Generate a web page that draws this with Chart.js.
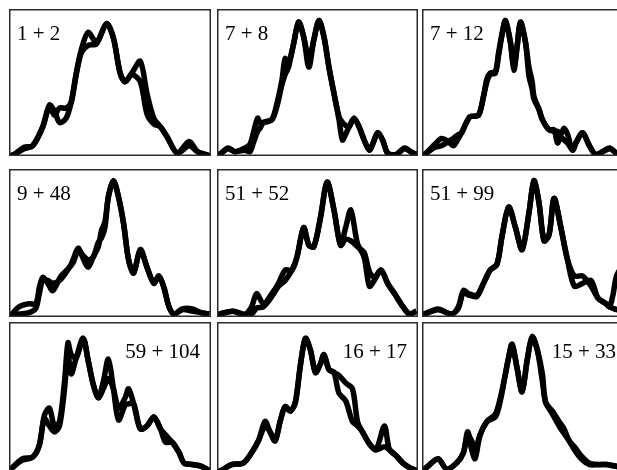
<!DOCTYPE html>
<html>
<head>
<meta charset="utf-8">
<script src="https://cdn.jsdelivr.net/npm/chart.js@4/dist/chart.umd.min.js"></script>
<style>
  html, body { margin: 0; padding: 0; width: 617px; height: 470px; overflow: hidden; background: #fff; }
  .panel { position: absolute; }
</style>
</head>
<body>
<div class="panel" style="left:9px;top:9px;width:202px;height:147px"><canvas id="c1"></canvas></div>
<div class="panel" style="left:217px;top:9px;width:201px;height:147px"><canvas id="c2"></canvas></div>
<div class="panel" style="left:422px;top:9px;width:201px;height:147px"><canvas id="c3"></canvas></div>
<div class="panel" style="left:9px;top:169px;width:202px;height:148px"><canvas id="c4"></canvas></div>
<div class="panel" style="left:217px;top:169px;width:201px;height:148px"><canvas id="c5"></canvas></div>
<div class="panel" style="left:422px;top:169px;width:201px;height:148px"><canvas id="c6"></canvas></div>
<div class="panel" style="left:9px;top:322px;width:202px;height:150px"><canvas id="c7"></canvas></div>
<div class="panel" style="left:217px;top:322px;width:201px;height:150px"><canvas id="c8"></canvas></div>
<div class="panel" style="left:422px;top:322px;width:201px;height:150px"><canvas id="c9"></canvas></div>

<script>
// pair labels
const labels = ['1 + 2', '7 + 8', '7 + 12', '9 + 48', '51 + 52', '51 + 99', '59 + 104', '16 + 17', '15 + 33'];

// panel 1 (1 + 2)
const p1x = [0, 2.5, 7.5, 11.7, 16.7, 20, 22.5, 25, 28.3, 30.8, 33.3, 35.8, 39.2, 43.3, 48.3, 51.7, 55, 57.5, 60.8, 65, 68.3, 71.7, 75, 78.3, 83.3, 89.2, 93.3, 97.5, 100];
const p1a = [-1, 0, 5, 6, 19, 34, 30, 22, 25, 36, 56, 72, 84, 77, 90, 80, 56, 50, 55, 50, 28, 21, 19, 12, 1, 9, 2, 0, -1];
const p1b = [-1, 0, 4, 6, 19, 33, 27, 32, 32, 36, 55, 70, 75, 76, 90, 80, 56, 50, 56, 64, 42, 25, 19, 12, 1, 6, 2, 0, -1];

// panel 2 (7 + 8)
const p2x = [0, 2.2, 5.5, 8.9, 13.9, 16.4, 18.1, 20.2, 21.4, 23.1, 27.3, 29.8, 32.3, 33.9, 35.6, 36.5, 38.1, 40.6, 43.1, 45.7, 48.2, 50.7, 53.2, 55.7, 58.2, 60.7, 62.4, 64, 65.7, 68.2, 70.7, 73.2, 75.8, 77.4, 79.9, 82.4, 84.9, 89.1, 93.3, 97.5, 100];
const p2a = [-1, 1, 4.5, 2, 4.5, 7, 15, 25, 22, 22, 24, 35, 51, 66, 63, 66, 76, 91, 81, 60, 79, 92, 81, 60, 42, 24, 10, 14, 19, 25, 19, 10, 3, 7, 15, 10, 1, 0, 4.5, 1, 0];
const p2b = [-1, 1, 4, 2, 3, 2, 8, 16, 18, 22, 24, 33, 48, 55, 60, 66, 76, 91, 81, 66, 79, 92, 81, 60, 42, 26, 22, 20, 19, 25, 19, 10, 3, 7, 15, 10, 1, 0, 4, 1, 0];

// panel 3 (7 + 12)
const p3x = [0, 1.3, 6.4, 9.7, 13, 15.6, 17.2, 19.7, 21.4, 23.9, 28.1, 30.6, 32.3, 33.9, 36.5, 38.1, 39.8, 41.5, 44, 45.7, 47.3, 49, 51.5, 53.2, 54.8, 55.7, 58.2, 59.9, 63.2, 65.7, 67.4, 69.1, 70.7, 72.4, 74.9, 76.6, 79.9, 83.3, 86.6, 93.3, 96.7, 100];
const p3a = [-1, 0, 7, 11, 9, 6, 9, 15, 20, 26, 27, 40, 52, 56, 57, 70, 83, 92, 77, 58, 74, 91, 77, 54, 45, 38, 31, 24, 17, 17, 8, 12, 10, 8, 3, 8, 15, 6, 0, 4.5, 1, 0];
const p3b = [-1, 0, 5, 6, 9, 11, 13, 15, 20, 26, 27, 40, 50, 55, 56, 68, 82, 92, 77, 60, 74, 91, 77, 60, 50, 40, 31, 24, 17, 16, 16, 14, 18, 14, 3, 8, 15, 6, 0, 4, 1, 0];

// panel 4 (9 + 48)
const p4x = [0, 0.8, 5, 10, 13.3, 15, 16.7, 19.2, 21.7, 25.8, 30, 31.7, 34.2, 36.7, 39.2, 41.7, 44.2, 45.8, 47.5, 49.2, 51.7, 54.2, 56.7, 59.2, 61.7, 65, 68.3, 71.7, 74.2, 76.7, 79.2, 81.7, 85.8, 90.8, 95, 99.2];
const p4a = [-1, 0, 6, 8, 8, 19, 26, 22, 17, 27, 33, 38, 46, 39, 33, 40, 47, 58, 64, 81, 92, 81, 63, 38, 29, 45, 33, 22, 27, 19, 6, 1, 4.5, 4.5, 2, 1];
const p4b = [-1, 0, 1, 2, 5, 15, 24, 24, 22, 25, 33, 36, 44, 41, 38, 40, 50, 53, 60, 81, 92, 81, 63, 38, 29, 45, 33, 22, 27, 19, 6, 1, 4, 3, 2, 1];

// panel 5 (51 + 52)
const p5x = [0, 1.3, 8, 13.9, 17.2, 19.7, 23.1, 27.3, 30.6, 33.9, 37.3, 39.8, 43.1, 45.7, 48.2, 51.5, 54.8, 58.2, 61.5, 64, 66.6, 69.9, 73.2, 75.8, 78.3, 81.6, 84.9, 88.3, 92.5, 95.8, 99.2];
const p5a = [0, 1, 3, 1, 6, 15, 8, 15, 22, 31, 31, 40, 60, 48, 47, 67, 91, 72, 48, 52, 51, 47, 43, 30, 26, 31, 22, 15, 6, 1, 3];
const p5b = [0, 1, 3, 0, 1, 5, 6, 13, 20, 24, 31, 40, 60, 48, 47, 67, 91, 72, 48, 60, 72, 49, 40, 20, 24, 31, 22, 15, 6, 1, 3];

// panel 6 (51 + 99)
const p6x = [0, 1.3, 8, 14.7, 18.1, 20.6, 23.1, 27.3, 30.6, 33.9, 37.3, 39.8, 43.1, 46.5, 49.8, 53.2, 55.7, 58.2, 60.7, 63.2, 65.7, 69.1, 72.4, 75.8, 79.9, 84.1, 87.5, 91.6, 93.3, 95, 96.8, 100];
const p6a = [0, 1, 4.5, 1, 6, 17, 15, 14, 22, 31, 35, 54, 74, 60, 45, 70, 92, 77, 51, 55, 80, 60, 38, 20, 22, 24, 12, 8, 6, 14, 27, 35];
const p6b = [0, 1, 4, 1, 5, 16, 14, 13, 22, 31, 35, 54, 74, 60, 45, 70, 92, 77, 51, 55, 80, 60, 38, 27, 27, 20, 12, 8, 6, 5, 4, 3];

// panel 7 (59 + 104)
const p7x = [0, 1.7, 6.7, 11.7, 15, 17.5, 20, 22.5, 25, 27.5, 29.2, 30.8, 33.3, 36.7, 39.2, 41.7, 44.2, 46.7, 49.2, 51.7, 54.2, 57.5, 59.2, 61.7, 65, 68.3, 71.7, 75, 77.5, 80.8, 84.2, 86.7, 90.8, 95, 99.2];
const p7a = [0, 2, 8, 9, 17, 37, 42, 30, 33, 60, 86, 78, 76, 89, 74, 58, 49, 55, 62, 55, 42, 49, 55, 45, 28, 30, 36, 28, 19, 19, 12, 5, 4, 3, 0];
const p7b = [0, 2, 7, 9, 17, 35, 30, 26, 30, 55, 78, 65, 76, 89, 74, 58, 49, 60, 75, 55, 34, 44, 45, 45, 28, 30, 36, 28, 24, 19, 12, 5, 4, 3, 0];

// panel 8 (16 + 17)
const p8x = [0, 2.2, 7.2, 13, 17.2, 20.6, 23.9, 26.4, 28.9, 31.4, 33.9, 36.5, 39, 41.5, 44, 46.5, 49, 51.5, 53.2, 55.7, 58.2, 60.7, 64, 67.4, 69.9, 72.4, 75.8, 79.1, 83.3, 85.8, 89.1, 92.5, 95.8, 99.2];
const p8a = [-1, 0, 4, 5, 12, 20, 33, 26, 20, 33, 43, 40, 46, 71, 89, 81, 66, 72, 78, 68, 66, 52, 47, 33, 30, 26, 18, 14, 30, 14, 10, 5, 2, 0];
const p8b = [-1, 0, 4, 5, 12, 20, 30, 26, 20, 33, 43, 40, 46, 71, 89, 81, 66, 72, 78, 68, 66, 64, 59, 55, 33, 26, 18, 14, 16, 14, 10, 5, 2, 0];

// panel 9 (15 + 33)
const p9x = [0, 2.2, 8, 12.2, 17.2, 20.6, 22.7, 24.7, 26.4, 28.9, 32.3, 36.5, 39, 41.5, 43.1, 44.8, 47.3, 49.8, 52.3, 54.8, 57.4, 59.9, 61.5, 64.9, 68.2, 70.7, 73.2, 75.8, 79.1, 83.3, 87.5, 91.6, 95.8, 100];
const p9a = [0, 2, 8, 1, 5, 12, 26, 14, 8, 24, 33, 38, 49, 65, 76, 85, 69, 53, 74, 90, 81, 65, 46, 40, 33, 28, 20, 16, 10, 5, 4, 4, 3, 2];
const p9b = [0, 2, 8, 1, 5, 12, 24, 20, 14, 24, 33, 36, 47, 65, 76, 85, 69, 53, 74, 90, 81, 60, 46, 38, 30, 25, 20, 14, 8, 4, 4, 4, 3, 2];

const panels = [
    [p1x, p1a, p1b], [p2x, p2a, p2b], [p3x, p3a, p3b],
    [p4x, p4a, p4b], [p5x, p5a, p5b], [p6x, p6a, p6b],
    [p7x, p7a, p7b], [p8x, p8a, p8b], [p9x, p9a, p9b]
];

// frame around the plot area and the pair label
const framePlugin = {
    id: 'frame',
    afterDraw(chart, args, opts) {
        const ctx = chart.ctx;
        const a = chart.chartArea;
        ctx.save();
        ctx.strokeStyle = '#2b2b2b';
        ctx.lineWidth = 1.5;
        ctx.strokeRect(a.left + 0.75, a.top + 0.75, a.width - 1.5, a.height - 1.5);
        ctx.fillStyle = '#000';
        ctx.font = '21px "Liberation Serif", "DejaVu Serif", serif';
        ctx.textBaseline = 'alphabetic';
        if (opts.right) {
            ctx.textAlign = 'right';
            ctx.fillText(opts.text, a.right - opts.inset, a.top + 36);
        } else {
            ctx.textAlign = 'left';
            ctx.fillText(opts.text, a.left + 8, a.top + 31);
        }
        ctx.restore();
    }
};

function toPoints(xs, ys) {
    return xs.map((x, i) => ({ x: x, y: ys[i] }));
}

panels.forEach((p, i) => {
    const ctx = document.getElementById('c' + (i + 1)).getContext('2d');
    const line = {
        borderColor: '#000',
        borderWidth: 5.5,
        pointRadius: 0,
        tension: 0.3,
        fill: false
    };
    new Chart(ctx, {
        type: 'line',
        data: {
            datasets: [
                Object.assign({ data: toPoints(p[0], p[1]) }, line),
                Object.assign({ data: toPoints(p[0], p[2]) }, line)
            ]
        },
        options: {
            responsive: true,
            maintainAspectRatio: false,
            animation: false,
            layout: { padding: 0 },
            scales: {
                x: { type: 'linear', min: 0, max: 100, display: false },
                y: { min: -1, max: 100, display: false }
            },
            plugins: {
                legend: { display: false },
                tooltip: { enabled: false },
                frame: { text: labels[i], right: i >= 6, inset: i === 8 ? 7 : 11 }
            }
        },
        plugins: [framePlugin]
    });
});
</script>
</body>
</html>
